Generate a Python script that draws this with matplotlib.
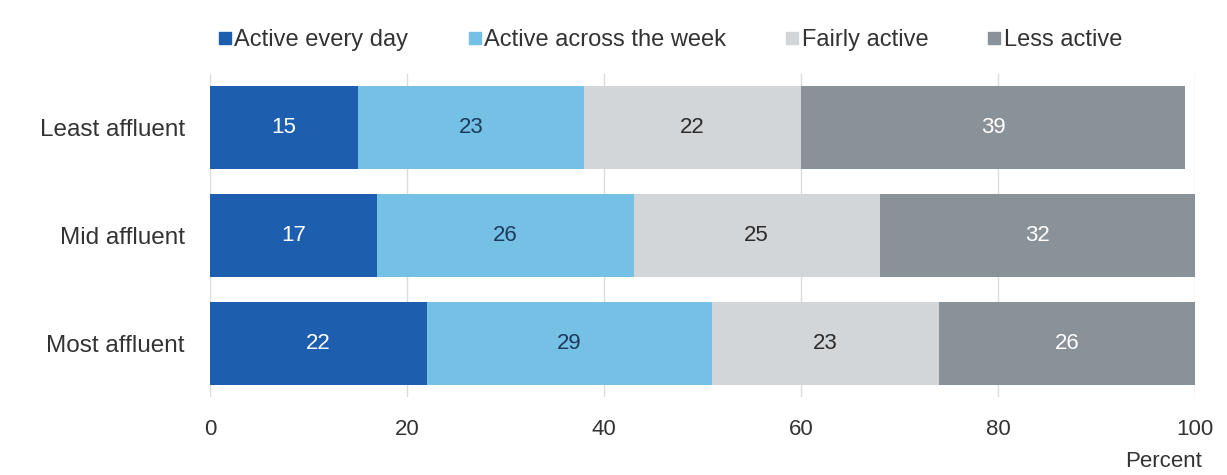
import matplotlib.pyplot as plt
from matplotlib.lines import Line2D
import numpy as np

plt.rcParams['font.family'] = ['Liberation Sans', 'DejaVu Sans']

groups = ['Least affluent', 'Mid affluent', 'Most affluent']
series = ['Active every day', 'Active across the week', 'Fairly active', 'Less active']
every_day = [15, 17, 22]
across_week = [23, 26, 29]
fairly = [22, 25, 23]
less = [39, 32, 26]
xticks = [0, 20, 40, 60, 80, 100]

colors = ['#1d5fae', '#75c1e6', '#d3d6d9', '#899199']
text_colors = ['white', '#1e3a5a', '#2b2b2b', 'white']

fig = plt.figure(figsize=(12.27, 4.75), dpi=100)
ax = fig.add_axes([0.1711, 0.1642, 0.9739 - 0.1711, 0.8442 - 0.1642])

y = np.arange(len(groups))
left = np.zeros(len(groups))
for vals, c, tc in zip([every_day, across_week, fairly, less], colors, text_colors):
    vals = np.array(vals, dtype=float)
    ax.barh(y, vals, left=left, height=0.77, color=c, zorder=2)
    for yi, l, v in zip(y, left, vals):
        ax.text(l + v / 2, yi, f'{v:.0f}', ha='center', va='center',
                color=tc, fontsize=16, zorder=3)
    left += vals

ax.set_xlim(0, 100)
ax.set_ylim(2.5, -0.5)
ax.set_yticks(y)
ax.set_yticklabels(groups, fontsize=17.5, color='#333333')
ax.set_xticks(xticks)
ax.set_xticklabels([str(t) for t in xticks], fontsize=16, color='#333333')
ax.tick_params(axis='y', length=0, pad=18)
ax.tick_params(axis='x', length=0, pad=16)
ax.grid(axis='x', color='#dcdcdc', linewidth=1, zorder=0)
for s in ax.spines.values():
    s.set_visible(False)

fig.text(0.948, 0.029, 'Percent', ha='center', va='center', fontsize=16, color='#333333')

handles = [Line2D([], [], marker='s', linestyle='none', markersize=8,
                  markerfacecolor=c, markeredgecolor=c) for c in colors]
fig.legend(handles, series, loc='center', bbox_to_anchor=(0.547, 0.916), ncol=4,
           frameon=False, fontsize=17, handlelength=0.4, handletextpad=0.2,
           columnspacing=2.6, labelcolor='#333333')

fig.savefig('out.png', dpi=100)
